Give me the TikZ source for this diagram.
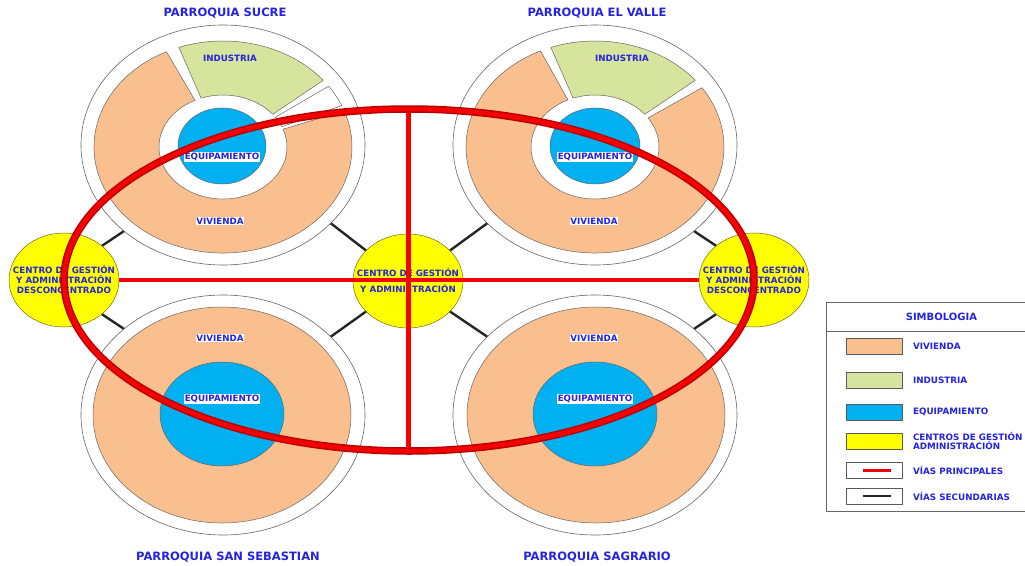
\documentclass[tikz,border=0pt]{standalone}
\usepackage{fontspec}
\setmainfont{DejaVu Sans}
\usetikzlibrary{shapes.geometric,calc}

\definecolor{vivienda}{RGB}{250,191,143}
\definecolor{industria}{RGB}{215,228,158}
\definecolor{equipo}{RGB}{0,176,240}
\definecolor{centro}{RGB}{255,255,0}
\definecolor{txtblue}{RGB}{35,35,225}
\definecolor{via}{RGB}{245,0,0}
\definecolor{viadark}{RGB}{185,0,0}

\begin{document}
\begin{tikzpicture}[line join=round, x=1pt, y=-1pt]
    \tikzset{
        label/.style={text=txtblue, font=\fontsize{8.7}{9}\selectfont\bfseries, inner sep=0.8pt},
        boxed label/.style={label, fill=white},
        title/.style={text=txtblue, font=\fontsize{11.5}{13}\selectfont\bfseries, inner sep=0pt},
        parish/.style={ellipse, draw=gray!80!black, fill=white, line width=0.6pt, minimum width=284pt, minimum height=240pt, inner sep=0pt},
        centre/.style={ellipse, draw=olive!70!black, fill=centro, line width=0.5pt, minimum width=110pt, minimum height=94pt,
            inner xsep=-17pt, inner ysep=0pt, align=center, text=txtblue, font=\fontsize{8.7}{10}\selectfont\bfseries},
        zone/.style={draw=black!60, line width=0.5pt},
        secondary/.style={line width=2.4pt, black!85},
        primary/.style={line width=3.5pt, via},
        swatch/.style={draw=gray!70!black, line width=0.8pt, minimum width=56pt, minimum height=16pt, inner sep=0pt},
    }
    \useasboundingbox (0,0) rectangle (1025,565);
    \clip (0,0) rectangle (1025,565);

    % parroquias
    \node[parish] (sucre) at (223,145) {};
    \node[parish] (valle) at (595,145) {};
    \node[parish] (sebastian) at (223,415) {};
    \node[parish] (sagrario) at (595,415) {};

    % sectores de las parroquias de arriba
    \foreach \cx/\cy/\a/\b/\col in {223/147/116/380/vivienda, 223/147/39/110/industria, 223/147/23/35/white,
                                    595/147/115/394/vivienda, 595/147/39/110/industria}{
        \filldraw[zone, fill=\col] (\cx,\cy) ++(-\a:129 and 106) arc[start angle=-\a, end angle=-\b, x radius=129, y radius=106]
            -- ($(\cx,\cy)+(-\b:64 and 52)$) arc[start angle=-\b, end angle=-\a, x radius=64, y radius=52] -- cycle;
    }
    \filldraw[zone, fill=equipo] (222,146) ellipse [x radius=44, y radius=38];
    \filldraw[zone, fill=equipo] (595,146) ellipse [x radius=45, y radius=38];

    % parroquias de abajo
    \filldraw[zone, fill=vivienda] (222,415) ellipse [x radius=129, y radius=108];
    \filldraw[zone, fill=vivienda] (596,415) ellipse [x radius=129, y radius=108];
    \filldraw[zone, fill=equipo] (222,414) ellipse [x radius=62, y radius=52];
    \filldraw[zone, fill=equipo] (595,414) ellipse [x radius=62, y radius=52];

    \node[label] (indsucre) at (230,58) {INDUSTRIA};
    \node[label] (indvalle) at (622,58) {INDUSTRIA};
    \node[boxed label] (eqsucre) at (222,157) {EQUIPAMIENTO};
    \node[boxed label] (eqvalle) at (595,157) {EQUIPAMIENTO};
    \node[boxed label] (visucre) at (220,221) {VIVIENDA};
    \node[boxed label] (vivalle) at (594,221) {VIVIENDA};
    \node[boxed label] (visebastian) at (220,338) {VIVIENDA};
    \node[boxed label] (visagrario) at (594,338) {VIVIENDA};
    \node[boxed label] (eqsebastian) at (222,399) {EQUIPAMIENTO};
    \node[boxed label] (eqsagrario) at (595,399) {EQUIPAMIENTO};

    % centros de gestion
    \node[centre] (cgleft) at (64,280) {CENTRO DE GESTIÓN\\Y ADMINISTRACIÓN\\DESCONCENTRADO};
    \node[centre] (cgmid) at (408,281) {CENTRO DE GESTIÓN\\[6pt]Y ADMINISTRACIÓN};
    \node[centre] (cgright) at (754,280) {CENTRO DE GESTIÓN\\Y ADMINISTRACIÓN\\DESCONCENTRADO};

    % vias secundarias
    \draw[secondary] (cgmid.144) -- (sucre.-36);
    \draw[secondary] (cgmid.36) -- (valle.216);
    \draw[secondary] (cgmid.216) -- (sebastian.36);
    \draw[secondary] (cgmid.-36) -- (sagrario.144);
    \draw[secondary] (cgleft.42) -- (sucre.221);
    \draw[secondary] (cgleft.-42) -- (sebastian.139);
    \draw[secondary] (cgright.138) -- (valle.-41);
    \draw[secondary] (cgright.222) -- (sagrario.41);

    % vias principales
    \coordinate (ring) at (409,280);
    \coordinate (ringtop) at (408,109);
    \coordinate (ringbottom) at (408,451);
    \draw[primary] (cgleft.east) -- (cgright.west);
    \draw[primary, line width=5pt] (ringtop) -- (ringbottom);
    \draw[line width=7.5pt, viadark] (ring) ellipse [x radius=345, y radius=171];
    \draw[line width=4.5pt, via] (ring) ellipse [x radius=345, y radius=171];

    % titulos
    \node[title] (tsucre) at (225,13) {PARROQUIA SUCRE};
    \node[title] (tvalle) at (597,13) {PARROQUIA EL VALLE};
    \node[title] (tsebastian) at (228,557) {PARROQUIA SAN SEBASTIAN};
    \node[title] (tsagrario) at (597,557) {PARROQUIA SAGRARIO};

    % simbologia
    \node[draw=gray!80!black, line width=0.8pt, minimum width=230pt, minimum height=209pt, anchor=north west] (legend) at (826,302) {};
    \node[draw=gray!80!black, line width=0.8pt, minimum width=230pt, minimum height=29pt, anchor=north west,
        text=txtblue, font=\fontsize{10}{12}\selectfont\bfseries] (legtitle) at (826,302) {SIMBOLOGIA};
    \foreach \y/\col/\txt in {346/vivienda/VIVIENDA, 380/industria/INDUSTRIA, 412/equipo/EQUIPAMIENTO,
                              441/centro/{CENTROS DE GESTIÓN\\ADMINISTRACIÓN}, 470/white/VÍAS PRINCIPALES, 496/white/VÍAS SECUNDARIAS}{
        \node[swatch, fill=\col] (sw\y) at (874,\y) {};
        \node[label, anchor=west, align=left, font=\fontsize{8.8}{8}\selectfont\bfseries] (lb\y) at (912,\y) {\txt};
    }
    \draw[line width=3pt, via] ([xshift=17pt]sw470.west) -- ([xshift=-11pt]sw470.east);
    \draw[line width=2pt, black!85] ([xshift=17pt]sw496.west) -- ([xshift=-11pt]sw496.east);
\end{tikzpicture}
\end{document}
